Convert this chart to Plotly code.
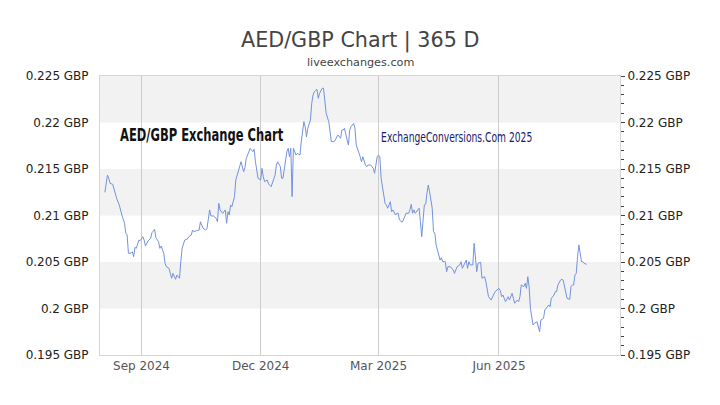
import plotly.graph_objects as go

dates = [
    "2024-08-04", "2024-08-06", "2024-08-07", "2024-08-08", "2024-08-10", "2024-08-12", "2024-08-13",
    "2024-08-15", "2024-08-16", "2024-08-17", "2024-08-19", "2024-08-20", "2024-08-21", "2024-08-22",
    "2024-08-24", "2024-08-25", "2024-08-26", "2024-08-27", "2024-08-28", "2024-08-30", "2024-08-31",
    "2024-09-02", "2024-09-03", "2024-09-04", "2024-09-06", "2024-09-08", "2024-09-09", "2024-09-11",
    "2024-09-12", "2024-09-14", "2024-09-15", "2024-09-16", "2024-09-18", "2024-09-19", "2024-09-20",
    "2024-09-22", "2024-09-23", "2024-09-24", "2024-09-25", "2024-09-27", "2024-09-28", "2024-09-30",
    "2024-10-01", "2024-10-02", "2024-10-04", "2024-10-06", "2024-10-07", "2024-10-09", "2024-10-10",
    "2024-10-11", "2024-10-13", "2024-10-15", "2024-10-16", "2024-10-18", "2024-10-20", "2024-10-21",
    "2024-10-22", "2024-10-23", "2024-10-24", "2024-10-26", "2024-10-28", "2024-10-29", "2024-10-30",
    "2024-10-31", "2024-11-02", "2024-11-04", "2024-11-05", "2024-11-06", "2024-11-07", "2024-11-08",
    "2024-11-09", "2024-11-11", "2024-11-12", "2024-11-13", "2024-11-14", "2024-11-15", "2024-11-16",
    "2024-11-18", "2024-11-19", "2024-11-20", "2024-11-22", "2024-11-23", "2024-11-25", "2024-11-26",
    "2024-11-27", "2024-11-28", "2024-11-29", "2024-12-01", "2024-12-02", "2024-12-03", "2024-12-04",
    "2024-12-06", "2024-12-07", "2024-12-09", "2024-12-11", "2024-12-12", "2024-12-13", "2024-12-14",
    "2024-12-16", "2024-12-17", "2024-12-18", "2024-12-20", "2024-12-21", "2024-12-22", "2024-12-23",
    "2024-12-24", "2024-12-25", "2024-12-26", "2024-12-28", "2024-12-29", "2024-12-31", "2025-01-01",
    "2025-01-03", "2025-01-04", "2025-01-05", "2025-01-06", "2025-01-08", "2025-01-09", "2025-01-10",
    "2025-01-11", "2025-01-13", "2025-01-14", "2025-01-15", "2025-01-17", "2025-01-18", "2025-01-20",
    "2025-01-21", "2025-01-22", "2025-01-24", "2025-01-26", "2025-01-27", "2025-01-29", "2025-01-31",
    "2025-02-01", "2025-02-02", "2025-02-03", "2025-02-05", "2025-02-06", "2025-02-07", "2025-02-08",
    "2025-02-10", "2025-02-11", "2025-02-12", "2025-02-14", "2025-02-15", "2025-02-16", "2025-02-17",
    "2025-02-19", "2025-02-20", "2025-02-21", "2025-02-23", "2025-02-25", "2025-02-26", "2025-02-28",
    "2025-03-01", "2025-03-02", "2025-03-03", "2025-03-05", "2025-03-06", "2025-03-07", "2025-03-08",
    "2025-03-10", "2025-03-11", "2025-03-12", "2025-03-14", "2025-03-15", "2025-03-16", "2025-03-17",
    "2025-03-19", "2025-03-20", "2025-03-21", "2025-03-22", "2025-03-24", "2025-03-25", "2025-03-26",
    "2025-03-27", "2025-03-28", "2025-03-29", "2025-03-31", "2025-04-01", "2025-04-02", "2025-04-03",
    "2025-04-05", "2025-04-06", "2025-04-07", "2025-04-08", "2025-04-09", "2025-04-11", "2025-04-12",
    "2025-04-13", "2025-04-14", "2025-04-16", "2025-04-17", "2025-04-18", "2025-04-19", "2025-04-21",
    "2025-04-22", "2025-04-23", "2025-04-25", "2025-04-26", "2025-04-27", "2025-04-28", "2025-04-30",
    "2025-05-02", "2025-05-03", "2025-05-04", "2025-05-06", "2025-05-07", "2025-05-08", "2025-05-09",
    "2025-05-10", "2025-05-12", "2025-05-13", "2025-05-14", "2025-05-15", "2025-05-16", "2025-05-18",
    "2025-05-19", "2025-05-21", "2025-05-22", "2025-05-23", "2025-05-24", "2025-05-26", "2025-05-27",
    "2025-05-29", "2025-06-01", "2025-06-02", "2025-06-03", "2025-06-04", "2025-06-06", "2025-06-07",
    "2025-06-08", "2025-06-09", "2025-06-11", "2025-06-12", "2025-06-13", "2025-06-15", "2025-06-16",
    "2025-06-17", "2025-06-18", "2025-06-20", "2025-06-21", "2025-06-22", "2025-06-23", "2025-06-24",
    "2025-06-25", "2025-06-27", "2025-06-28", "2025-06-30", "2025-07-01", "2025-07-02", "2025-07-03",
    "2025-07-05", "2025-07-06", "2025-07-07", "2025-07-09", "2025-07-10", "2025-07-11", "2025-07-13",
    "2025-07-14", "2025-07-15", "2025-07-16", "2025-07-18", "2025-07-19", "2025-07-20", "2025-07-21",
    "2025-07-23", "2025-07-25", "2025-07-26", "2025-07-27", "2025-07-28", "2025-07-29", "2025-07-30",
    "2025-07-31", "2025-08-01", "2025-08-03", "2025-08-04", "2025-08-05", "2025-08-07",
]

rates = [
    0.21249, 0.21435, 0.21400, 0.21346, 0.21335, 0.21220, 0.21185,
    0.21113, 0.21041, 0.21005, 0.20916, 0.20809, 0.20790, 0.20594,
    0.20594, 0.20610, 0.20557, 0.20658, 0.20647, 0.20736, 0.20730,
    0.20772, 0.20736, 0.20672, 0.20726, 0.20755, 0.20815, 0.20851,
    0.20761, 0.20718, 0.20647, 0.20672, 0.20594, 0.20486, 0.20449,
    0.20432, 0.20378, 0.20325, 0.20378, 0.20314, 0.20360, 0.20325,
    0.20503, 0.20647, 0.20736, 0.20747, 0.20772, 0.20790, 0.20844,
    0.20826, 0.20837, 0.20844, 0.20933, 0.20862, 0.20844, 0.20862,
    0.20959, 0.21060, 0.20995, 0.20995, 0.20970, 0.20933, 0.21131,
    0.21060, 0.21024, 0.21060, 0.20916, 0.21041, 0.21005, 0.21113,
    0.21095, 0.21202, 0.21382, 0.21435, 0.21489, 0.21543, 0.21578,
    0.21471, 0.21518, 0.21615, 0.21704, 0.21722, 0.21686, 0.21712,
    0.21578, 0.21454, 0.21400, 0.21382, 0.21507, 0.21417, 0.21364,
    0.21382, 0.21339, 0.21310, 0.21382, 0.21435, 0.21543, 0.21578,
    0.21525, 0.21400, 0.21400, 0.21615, 0.21686, 0.21722, 0.21632,
    0.21722, 0.21202, 0.21722, 0.21650, 0.21668, 0.21650, 0.21794,
    0.22009, 0.21955, 0.21847, 0.21938, 0.22027, 0.22206, 0.22296,
    0.22331, 0.22357, 0.22260, 0.22314, 0.22368, 0.22368, 0.22099,
    0.22062, 0.22009, 0.21794, 0.21794, 0.21812, 0.21866, 0.21830,
    0.21919, 0.21919, 0.21938, 0.21812, 0.21758, 0.21920, 0.21955,
    0.21990, 0.21938, 0.21758, 0.21686, 0.21632, 0.21578, 0.21632,
    0.21543, 0.21525, 0.21543, 0.21543, 0.21507, 0.21454, 0.21632,
    0.21650, 0.21632, 0.21400, 0.21220, 0.21131, 0.21113, 0.21078,
    0.21148, 0.21041, 0.21060, 0.21005, 0.21024, 0.21024, 0.20952,
    0.20927, 0.20952, 0.20987, 0.21024, 0.21024, 0.21060, 0.21120,
    0.21024, 0.21060, 0.21024, 0.21060, 0.21078, 0.20933, 0.20772,
    0.21113, 0.21120, 0.21239, 0.21328, 0.21256, 0.21078, 0.20826,
    0.20809, 0.20683, 0.20557, 0.20521, 0.20546, 0.20503, 0.20503,
    0.20396, 0.20449, 0.20449, 0.20432, 0.20414, 0.20378, 0.20449,
    0.20468, 0.20503, 0.20432, 0.20486, 0.20521, 0.20432, 0.20503,
    0.20468, 0.20468, 0.20701, 0.20557, 0.20396, 0.20486, 0.20497,
    0.20325, 0.20342, 0.20288, 0.20181, 0.20127, 0.20091, 0.20127,
    0.20181, 0.20217, 0.20192, 0.20127, 0.20145, 0.20073, 0.20109,
    0.20127, 0.20091, 0.20163, 0.20109, 0.20056, 0.20091, 0.20073,
    0.20127, 0.20253, 0.20235, 0.20271, 0.20217, 0.20342, 0.20235,
    0.20002, 0.19823, 0.19841, 0.19858, 0.19804, 0.19750, 0.19876,
    0.19894, 0.19984, 0.20002, 0.20038, 0.20020, 0.20109, 0.20145,
    0.20181, 0.20181, 0.20253, 0.20306, 0.20314, 0.20306, 0.20235,
    0.20109, 0.20098, 0.20235, 0.20253, 0.20253, 0.20360, 0.20378,
    0.20557, 0.20683, 0.20503, 0.20503, 0.20486, 0.20475,
]

y_ticks = [0.195, 0.2, 0.205, 0.21, 0.215, 0.22, 0.225]
y_tick_labels = ["0.195 GBP", "0.2 GBP", "0.205 GBP", "0.21 GBP", "0.215 GBP", "0.22 GBP", "0.225 GBP"]
x_ticks = ["2024-09-01", "2024-12-01", "2025-03-01", "2025-06-01"]
x_tick_labels = ["Sep 2024", "Dec 2024", "Mar 2025", "Jun 2025"]
band_ranges = [(0.2, 0.205), (0.21, 0.215), (0.22, 0.225)]

title_text = "AED/GBP Chart | 365 D"
subtitle_text = "liveexchanges.com"
watermark_left = "AED/GBP Exchange Chart"
watermark_right = "ExchangeConversions.Com 2025"

FONT = "DejaVu Sans"
y_range = [0.195, 0.225]
x_range = ["2024-07-31 07:00", "2025-09-01 10:00"]

fig = go.Figure()
fig.add_trace(go.Scatter(
    x=dates, y=rates, mode="lines",
    line=dict(color="#7393dc", width=1),
    hoverinfo="x+y", showlegend=False,
))
fig.add_trace(go.Scatter(
    x=dates, y=rates, mode="lines", yaxis="y2",
    line=dict(color="rgba(0,0,0,0)", width=0),
    hoverinfo="skip", showlegend=False,
))

shapes = []
for lo, hi in band_ranges:
    shapes.append(dict(type="rect", xref="paper", yref="y", x0=0, x1=1, y0=lo, y1=hi,
                       fillcolor="#f2f2f2", line=dict(width=0), layer="below"))

fig.update_layout(
    width=712, height=397,
    margin=dict(l=92, r=100, t=68, b=50),
    paper_bgcolor="white", plot_bgcolor="white",
    shapes=shapes,
    font=dict(family=FONT, size=12, color="#222222"),
    xaxis=dict(
        type="date", range=x_range,
        tickvals=x_ticks, ticktext=x_tick_labels,
        showgrid=True, gridcolor="#cccccc", gridwidth=1,
        showline=True, linecolor="#d6d6d6", linewidth=1, mirror=True,
        ticks="", zeroline=False,
        tickfont=dict(family=FONT, size=12, color="#555555"),
        layer="below traces",
    ),
    yaxis=dict(
        range=y_range, tickvals=y_ticks, ticktext=y_tick_labels,
        showgrid=False, zeroline=False,
        showline=True, linecolor="#d6d6d6", linewidth=1, mirror=True,
        ticks="", ticklabelstandoff=8,
        tickfont=dict(family=FONT, size=12, color="#222222"),
    ),
    yaxis2=dict(
        range=y_range, tickvals=y_ticks, ticktext=y_tick_labels,
        overlaying="y", side="right",
        showgrid=False, zeroline=False, showline=False,
        ticks="outside", ticklen=4, tickcolor="#444444", tickwidth=1,
        minor=dict(dtick=0.001, ticks="outside", ticklen=3, tickcolor="#444444", tickwidth=1, showgrid=False),
        tickfont=dict(family=FONT, size=12, color="#222222"),
    ),
    annotations=[
        dict(text=title_text, xref="paper", yref="paper", x=0.5, y=1, yshift=36,
             showarrow=False, xanchor="center", yanchor="middle",
             font=dict(family=FONT, size=20.7, color="#444444")),
        dict(text=subtitle_text, xref="paper", yref="paper", x=0.5, y=1, yshift=14,
             showarrow=False, xanchor="center", yanchor="middle",
             font=dict(family=FONT, size=11.2, color="#444444")),
        dict(text="<b>" + watermark_left + "</b>", xref="paper", yref="paper", x=0.035, y=0.789,
             showarrow=False, xanchor="left", yanchor="middle",
             font=dict(family=FONT, size=18, color="#111111")),
        dict(text=watermark_right, xref="paper", yref="paper", x=0.537, y=0.782,
             showarrow=False, xanchor="left", yanchor="middle",
             font=dict(family=FONT, size=13.5, color="#1a1a6b")),
    ],
)

# Condense the two watermark texts horizontally (no condensed font is installed).
condense_js = """
var gd = document.getElementById('{plot_id}');
function condense() {
  var texts = gd.querySelectorAll('.annotation-text');
  texts.forEach(function (t) {
    var s = t.textContent;
    var k = null;
    if (s.indexOf('Exchange Chart') >= 0) { k = 0.64; }
    else if (s.indexOf('ExchangeConversions') >= 0) { k = 0.68; }
    if (k !== null) {
      t.style.transformBox = 'fill-box';
      t.style.transformOrigin = '0% 50%';
      t.style.transform = 'scaleX(' + k + ')';
    }
  });
}
condense();
gd.on && gd.on('plotly_afterplot', condense);
"""

fig.write_html("out.html", post_script=condense_js)
